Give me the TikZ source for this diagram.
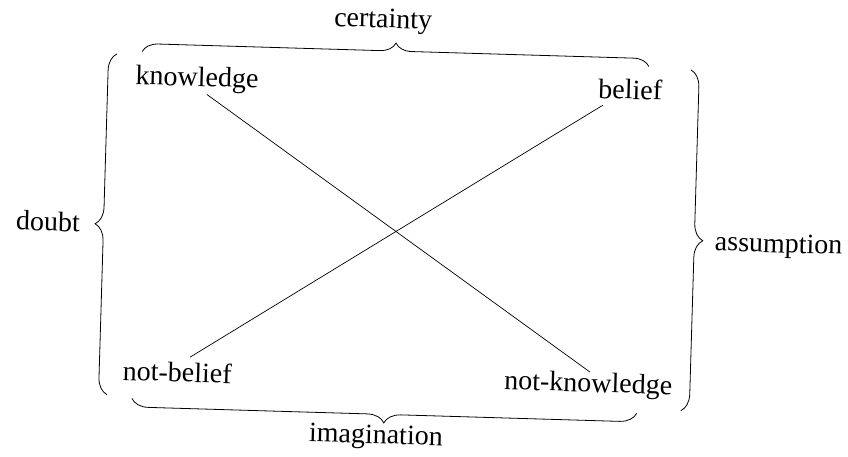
\documentclass[tikz,border=0pt]{standalone}
\usepackage{fontspec}
\setmainfont{Liberation Serif}
\usetikzlibrary{decorations.pathreplacing}
\begin{document}
\begin{tikzpicture}[x=1pt,y=1pt,
  lbl/.style={inner sep=0pt, transform shape, font=\fontsize{28}{30}\selectfont},
  brc/.style={decorate, decoration={brace, amplitude=#1}, line width=0.8pt},
  ln/.style={line width=0.7pt}]
\useasboundingbox[fill=white] (0,0) rectangle (848,457);
\begin{scope}[rotate around={-1.7:(424,227)}]
  % labels
  \node[lbl, anchor=base west] (know) at (131,364) {knowledge};
  \node[lbl, anchor=base west] (bel) at (594,364) {belief};
  \node[lbl, anchor=base west] (nbel) at (127,68) {not-belief};
  \node[lbl, anchor=base east] (nknow) at (677,70) {not-knowledge};
  \node[lbl, anchor=base] (cert) at (377,428) {certainty};
  \node[lbl, anchor=base] (imag) at (382,12) {imagination};
  \node[lbl, anchor=base east] (doubt) at (80,215) {doubt};
  \node[lbl, anchor=base west] (assum) at (715,215) {assumption};
  % line ends
  \coordinate (k1) at (203,356);
  \coordinate (nk1) at (594,90);
  \coordinate (b1) at (599,357);
  \coordinate (nb1) at (194,93);
  \draw[ln] (k1) -- (nk1);
  \draw[ln] (b1) -- (nb1);
  % braces
  \draw[brc=16pt] (137,397) -- (644,397);
  \draw[brc=17pt] (112,53) -- (112,394);
  \draw[brc=17pt] (686,395) -- (686,54);
  \draw[brc=17pt] (642,50) -- (137,50);
\end{scope}
\end{tikzpicture}
\end{document}
